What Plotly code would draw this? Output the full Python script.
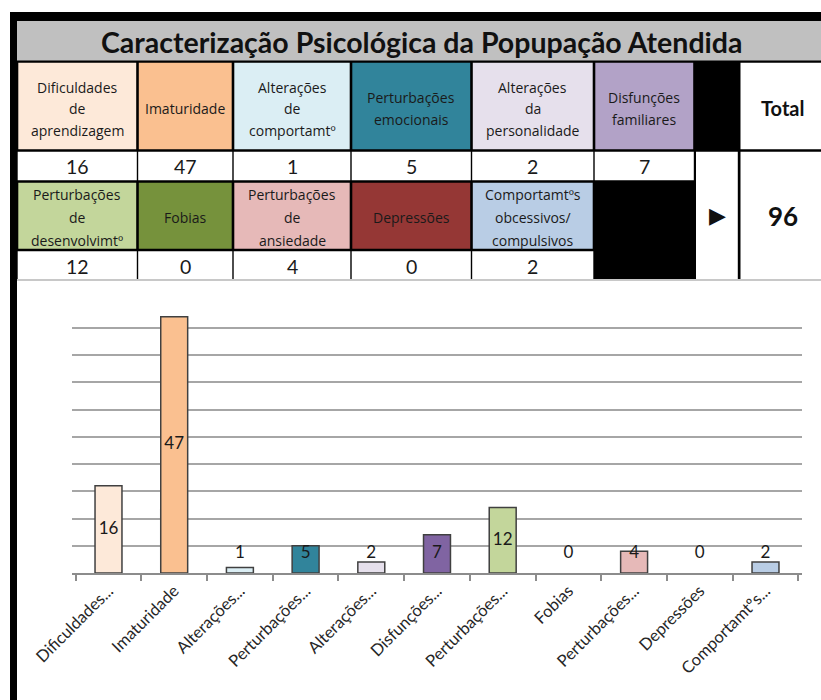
import plotly.graph_objects as go

W, H = 821, 700

# ---------------- data ----------------
title_text = "Caracterização Psicológica da Popupação Atendida"
table_headers = [
    "Dificuldades<br>de<br>aprendizagem",
    "Imaturidade",
    "Alterações<br>de<br>comportamtº",
    "Perturbações<br>emocionais",
    "Alterações<br>da<br>personalidade",
    "Disfunções<br>familiares",
    "Perturbações<br>de<br>desenvolvimtº",
    "Fobias",
    "Perturbações<br>de<br>ansiedade",
    "Depressões",
    "Comportamtºs<br>obcessivos/<br>compulsivos",
]
tick_labels = [
    "Dificuldades...", "Imaturidade", "Alterações...", "Perturbações...",
    "Alterações...", "Disfunções...", "Perturbações...", "Fobias",
    "Perturbações...", "Depressões", "Comportamtºs...",
]
values = [16, 47, 1, 5, 2, 7, 12, 0, 4, 0, 2]
cell_colors = ["#fde9d9", "#fac090", "#dbeef4", "#31849b", "#e6e0ec", "#b2a2c7",
               "#c3d69b", "#76923c", "#e6b9b8", "#953735", "#b9cde5"]
bar_colors = ["#fde9d9", "#fac090", "#dbeef4", "#31849b", "#e6e0ec", "#8064a2",
              "#c3d69b", "#76923c", "#e6b9b8", "#953735", "#b9cde5"]
total_label = "Total"
arrow_label = "▶"
y_max = 50
y_step = 5

categories = [h.replace("<br>", " ") for h in table_headers]
total = sum(values)

# ---------------- helpers (pixel -> paper) ----------------
def px(x):
    return x / W

def py(y):
    return 1 - y / H

shapes = []
annotations = []

def rect(x0, y0, x1, y1, color):
    shapes.append(dict(type="rect", xref="paper", yref="paper",
                       x0=px(x0), x1=px(x1), y0=py(y1), y1=py(y0),
                       fillcolor=color, line=dict(width=0), layer="above"))

def text(x, y, s, size, bold=False, family="Open Sans", color="#1a1a1a"):
    if bold:
        s = "<b>" + s + "</b>"
    annotations.append(dict(xref="paper", yref="paper", x=px(x), y=py(y), text=s,
                            showarrow=False, xanchor="center", yanchor="middle",
                            font=dict(size=size, family=family, color=color)))

def multiline(xc, yc, label, size, spacing):
    lines = label.split("<br>")
    n = len(lines)
    for k, ln in enumerate(lines):
        text(xc, yc + (k - (n - 1) / 2) * spacing, ln, size)

# ---------------- table layout ----------------
cols = [17, 137.5, 233, 351, 471.5, 594, 694.5, 739, 821]
rows_h1 = (61.5, 150.5)
rows_v1 = (150.5, 181.5)
rows_h2 = (181.5, 250.0)
rows_v2 = (250.0, 279.0)

rect(10, 12, 821, 21, "#000000")          # top black line
rect(10, 12, 17, 700, "#000000")          # left black border
rect(17, 21, 821, 279, "#000000")         # table background (borders)
rect(17, 21, 821, 60.5, "#c0c0c0")        # title band
text(421, 42, title_text, 28.5, bold=True, family="Lato", color="#111111")

n1 = 6
for i in range(n1):
    x0, x1 = cols[i], cols[i + 1]
    rect(x0 + 1.3, rows_h1[0] + 1.3, x1 - 1.3, rows_h1[1] - 1.3, cell_colors[i])
    multiline((x0 + x1) / 2, 108.5, table_headers[i], 14, 21.5)
    rect(x0 + 0.7, rows_v1[0] + 1.3, x1 - 0.7, rows_v1[1] - 1.3, "#ffffff")
    text((x0 + x1) / 2, 166.5, str(values[i]), 19.5, family="Lato")

for j in range(len(values) - n1):
    i = n1 + j
    x0, x1 = cols[j], cols[j + 1]
    rect(x0 + 1.3, rows_h2[0] + 1.3, x1 - 1.3, rows_h2[1] - 1.3, cell_colors[i])
    multiline((x0 + x1) / 2, 217, table_headers[i], 14, 23)
    rect(x0 + 0.7, rows_v2[0] + 1.3, x1 - 0.7, rows_v2[1], "#ffffff")
    text((x0 + x1) / 2, 266, str(values[i]), 19.5, family="Lato")

# Total header, arrow cell, total value
rect(cols[7] + 1.5, rows_h1[0] + 1.3, 821, rows_h1[1] - 1.3, "#ffffff")
text((cols[7] + 821) / 2 + 2, 108, total_label, 20, bold=True, family="Lato", color="#111111")
rect(cols[6] + 1.5, rows_v1[0] + 1.3, cols[7] - 1.2, 279, "#ffffff")
text((cols[6] + cols[7]) / 2 + 1, 216, arrow_label, 22, family="DejaVu Sans", color="#111111")
rect(cols[7] + 1.5, rows_v1[0] + 1.3, 821, 279, "#ffffff")
text((cols[7] + 821) / 2 + 3, 216, str(total), 26, bold=True, family="Lato", color="#111111")
rect(17, 279, 821, 281, "#c8c8c8")        # sheet gridline below table

# ---------------- chart ----------------
fig = go.Figure()
fig.add_trace(go.Bar(
    x=categories, y=values, width=0.41,
    marker=dict(color=bar_colors,
                line=dict(color="#404040", width=[1.5 if v > 0 else 0 for v in values])),
    hoverinfo="x+y", showlegend=False,
))
label_floor = 3.5
fig.add_trace(go.Scatter(
    x=categories, y=[max(v / 2, label_floor) for v in values],
    mode="text", text=[str(v) for v in values],
    textfont=dict(size=17, family="Lato", color="#1a1a1a"),
    hoverinfo="skip", showlegend=False,
))

fig.update_layout(
    width=W, height=H,
    margin=dict(l=0, r=0, t=0, b=0),
    paper_bgcolor="#ffffff", plot_bgcolor="#ffffff",
    shapes=shapes, annotations=annotations,
    bargap=0.59,
    xaxis=dict(
        domain=[px(72), px(802)],
        type="category",
        tickmode="array", tickvals=categories, ticktext=tick_labels,
        tickangle=-45, tickson="boundaries",
        ticks="outside", ticklen=6, tickcolor="#8c8c8c", tickwidth=1.5,
        showline=True, linecolor="#8c8c8c", linewidth=1.5,
        showgrid=False, automargin=False,
        tickfont=dict(size=16.5, family="Lato", color="#262626"),
    ),
    yaxis=dict(
        domain=[py(573), py(300.5)],
        range=[0, y_max], dtick=y_step,
        showticklabels=False, ticks="",
        showgrid=True, gridcolor="#a6a6a6", gridwidth=1.5,
        zeroline=False, showline=False, automargin=False,
    ),
)

fig.write_html("out.html", config={"displayModeBar": False},
               post_script="document.body.style.margin='0';")
